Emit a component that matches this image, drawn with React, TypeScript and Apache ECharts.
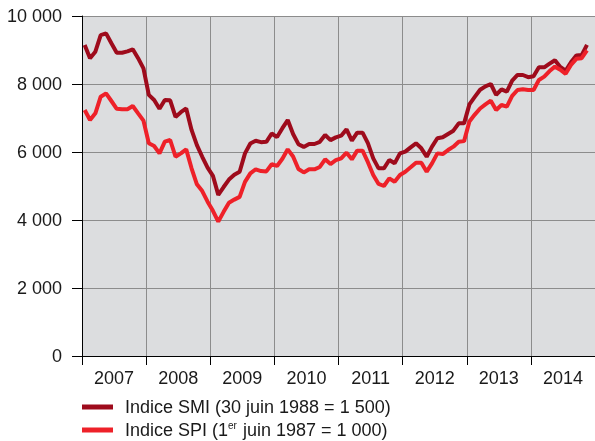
import React, { useEffect, useRef } from "react";
import * as echarts from "echarts";

const years = ["2007", "2008", "2009", "2010", "2011", "2012", "2013", "2014"];
const yTicks = [0, 2000, 4000, 6000, 8000, 10000];

// Monthly values, January 2007 to November 2014
const smi = [
  9147, 8760, 8950, 9440, 9490, 9200, 8920, 8920, 8960, 9020, 8760, 8460,
  7680, 7530, 7270, 7530, 7520, 7030, 7170, 7280, 6650, 6200, 5860, 5540,
  5300, 4740, 4970, 5190, 5330, 5420, 5960, 6250, 6330, 6290, 6300, 6545,
  6440, 6700, 6940, 6530, 6230, 6150, 6235, 6235, 6300, 6500, 6350, 6430,
  6480, 6665, 6333, 6568, 6568, 6260, 5814, 5520, 5520, 5765, 5667, 5960,
  6010, 6137, 6255, 6108, 5862, 6157, 6403, 6432, 6530, 6627, 6843, 6843,
  7400, 7620, 7830, 7930, 8000, 7680, 7843, 7775, 8100, 8265, 8265, 8200,
  8230, 8490, 8490, 8600, 8700, 8500, 8390, 8640, 8840, 8850, 9150,
];
const spi = [
  7235, 6941, 7137, 7627, 7725, 7500, 7270, 7255, 7260, 7353, 7137, 6922,
  6255, 6176, 5960, 6303, 6353, 5862, 5960, 6078, 5520, 5050, 4850, 4540,
  4270, 3951, 4240, 4510, 4600, 4680, 5120, 5372, 5490, 5440, 5430, 5640,
  5590, 5800, 6078, 5870, 5500, 5400, 5490, 5490, 5560, 5784, 5647, 5760,
  5814, 5980, 5784, 6039, 6039, 5700, 5323, 5059, 5000, 5225, 5127, 5323,
  5421, 5550, 5686, 5686, 5421, 5667, 5960, 5940, 6058, 6157, 6303, 6320,
  6900, 7100, 7280, 7400, 7510, 7235, 7382, 7333, 7650, 7824, 7843, 7824,
  7824, 8118, 8216, 8380, 8510, 8420, 8300, 8560, 8740, 8760, 8990,
];

const SMI_NAME = "Indice SMI (30 juin 1988 = 1 500)";
const SPI_NAME = "Indice SPI (1er juin 1987 = 1 000)";

const FONT = "'Liberation Sans', Arial, sans-serif";

const fmt = (v: number) => {
  const s = String(Math.round(v));
  return s.replace(/\B(?=(\d{3})+(?!\d))/g, " ");
};

const legendText = {
  color: "#1A1A1A",
  fontSize: 18,
  lineHeight: 20,
  fontFamily: FONT,
  padding: [0, 0, 0, 7],
  rich: {
    sup: {
      fontSize: 10,
      lineHeight: 20,
      fontFamily: FONT,
      color: "#1A1A1A",
      verticalAlign: "top",
      padding: [0, 1, 6, 0],
    },
  },
};

export default function App() {
  const ref = useRef<HTMLDivElement>(null);
  useEffect(() => {
    if (!ref.current) return;
    const chart = echarts.init(ref.current, undefined, { renderer: "svg" });
    const toPts = (arr: number[]) => arr.map((v, i) => [i + 0.5, v]);
    const legendBase = {
      orient: "vertical",
      left: 82,
      padding: 0,
      itemWidth: 31,
      itemHeight: 5,
      icon: "rect",
      formatter: (name: string) =>
        name === SPI_NAME ? "Indice SPI (1{sup|er} juin 1987 = 1 000)" : name,
      textStyle: legendText,
    };
    chart.setOption({
      animation: false,
      grid: {
        left: 82,
        top: 16,
        right: -2,
        bottom: 85,
        show: true,
        backgroundColor: "#DCDDDF",
        borderWidth: 0,
      },
      xAxis: [
        {
          type: "value",
          min: 0,
          max: years.length * 12,
          interval: 12,
          position: "bottom",
          axisLine: { show: false },
          axisTick: { show: false },
          axisLabel: { show: false },
          splitLine: { show: true, lineStyle: { color: "#8C8C8C", width: 1 } },
        },
        {
          type: "category",
          data: years,
          position: "bottom",
          boundaryGap: true,
          axisLine: { show: true, lineStyle: { color: "#000", width: 1 } },
          axisTick: { show: true, length: 9, interval: 0, lineStyle: { color: "#000", width: 1 } },
          axisLabel: {
            interval: 0,
            margin: 13,
            color: "#1A1A1A",
            fontSize: 18,
            fontFamily: FONT,
          },
          splitLine: { show: false },
        },
      ],
      yAxis: {
        type: "value",
        min: yTicks[0],
        max: yTicks[yTicks.length - 1],
        interval: 2000,
        axisLine: { show: true, lineStyle: { color: "#000", width: 1 } },
        axisTick: { show: true, length: 10, lineStyle: { color: "#000", width: 1 } },
        axisLabel: {
          margin: 20,
          color: "#1A1A1A",
          fontSize: 18,
          fontFamily: FONT,
          formatter: (v: number) => fmt(v),
        },
        splitLine: { show: true, lineStyle: { color: "#8C8C8C", width: 1 } },
      },
      legend: [
        { ...legendBase, top: 397, data: [SMI_NAME] },
        { ...legendBase, top: 420, data: [SPI_NAME] },
      ],
      series: [
        {
          name: SMI_NAME,
          type: "line",
          xAxisIndex: 0,
          data: toPts(smi),
          symbol: "none",
          lineStyle: { color: "#9E0B1C", width: 4 },
          itemStyle: { color: "#9E0B1C" },
        },
        {
          name: SPI_NAME,
          type: "line",
          xAxisIndex: 0,
          data: toPts(spi),
          symbol: "none",
          lineStyle: { color: "#EE2129", width: 4 },
          itemStyle: { color: "#EE2129" },
        },
      ],
    });
    return () => chart.dispose();
  }, []);
  return (
    <div
      ref={ref}
      style={{ position: "fixed", left: 0, top: 0, width: 595, height: 441 }}
    />
  );
}
